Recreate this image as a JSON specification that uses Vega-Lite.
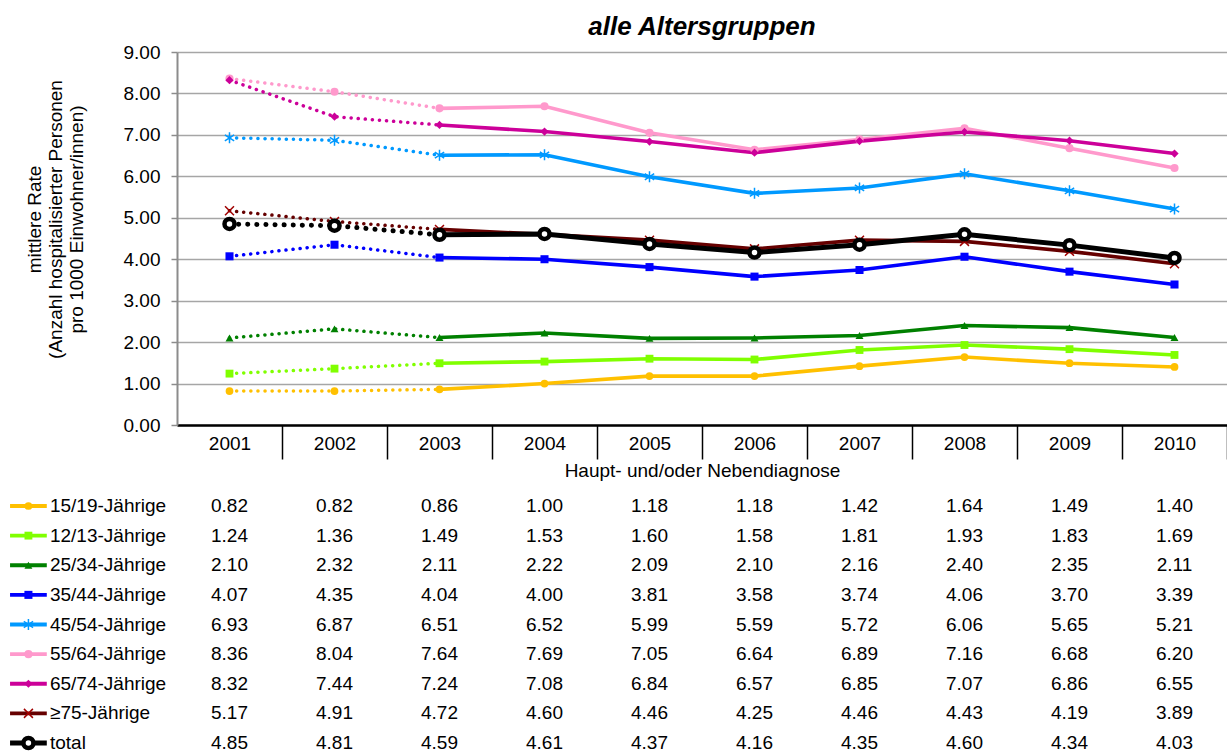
{
  "$schema": "https://vega.github.io/schema/vega-lite/v6.json",
  "padding": {"left": 7, "top": 14, "right": 0, "bottom": 0},
  "autosize": {"type": "pad"},
  "bounds": "flush",
  "spacing": 81,
  "datasets": {
    "d": [
      {"s": "15/19-Jährige", "year": 2001, "v": 0.82}, {"s": "15/19-Jährige", "year": 2002, "v": 0.82}, {"s": "15/19-Jährige", "year": 2003, "v": 0.86}, {"s": "15/19-Jährige", "year": 2004, "v": 1.00}, {"s": "15/19-Jährige", "year": 2005, "v": 1.18}, {"s": "15/19-Jährige", "year": 2006, "v": 1.18}, {"s": "15/19-Jährige", "year": 2007, "v": 1.42}, {"s": "15/19-Jährige", "year": 2008, "v": 1.64}, {"s": "15/19-Jährige", "year": 2009, "v": 1.49}, {"s": "15/19-Jährige", "year": 2010, "v": 1.40},
      {"s": "12/13-Jährige", "year": 2001, "v": 1.24}, {"s": "12/13-Jährige", "year": 2002, "v": 1.36}, {"s": "12/13-Jährige", "year": 2003, "v": 1.49}, {"s": "12/13-Jährige", "year": 2004, "v": 1.53}, {"s": "12/13-Jährige", "year": 2005, "v": 1.60}, {"s": "12/13-Jährige", "year": 2006, "v": 1.58}, {"s": "12/13-Jährige", "year": 2007, "v": 1.81}, {"s": "12/13-Jährige", "year": 2008, "v": 1.93}, {"s": "12/13-Jährige", "year": 2009, "v": 1.83}, {"s": "12/13-Jährige", "year": 2010, "v": 1.69},
      {"s": "25/34-Jährige", "year": 2001, "v": 2.10}, {"s": "25/34-Jährige", "year": 2002, "v": 2.32}, {"s": "25/34-Jährige", "year": 2003, "v": 2.11}, {"s": "25/34-Jährige", "year": 2004, "v": 2.22}, {"s": "25/34-Jährige", "year": 2005, "v": 2.09}, {"s": "25/34-Jährige", "year": 2006, "v": 2.10}, {"s": "25/34-Jährige", "year": 2007, "v": 2.16}, {"s": "25/34-Jährige", "year": 2008, "v": 2.40}, {"s": "25/34-Jährige", "year": 2009, "v": 2.35}, {"s": "25/34-Jährige", "year": 2010, "v": 2.11},
      {"s": "35/44-Jährige", "year": 2001, "v": 4.07}, {"s": "35/44-Jährige", "year": 2002, "v": 4.35}, {"s": "35/44-Jährige", "year": 2003, "v": 4.04}, {"s": "35/44-Jährige", "year": 2004, "v": 4.00}, {"s": "35/44-Jährige", "year": 2005, "v": 3.81}, {"s": "35/44-Jährige", "year": 2006, "v": 3.58}, {"s": "35/44-Jährige", "year": 2007, "v": 3.74}, {"s": "35/44-Jährige", "year": 2008, "v": 4.06}, {"s": "35/44-Jährige", "year": 2009, "v": 3.70}, {"s": "35/44-Jährige", "year": 2010, "v": 3.39},
      {"s": "45/54-Jährige", "year": 2001, "v": 6.93}, {"s": "45/54-Jährige", "year": 2002, "v": 6.87}, {"s": "45/54-Jährige", "year": 2003, "v": 6.51}, {"s": "45/54-Jährige", "year": 2004, "v": 6.52}, {"s": "45/54-Jährige", "year": 2005, "v": 5.99}, {"s": "45/54-Jährige", "year": 2006, "v": 5.59}, {"s": "45/54-Jährige", "year": 2007, "v": 5.72}, {"s": "45/54-Jährige", "year": 2008, "v": 6.06}, {"s": "45/54-Jährige", "year": 2009, "v": 5.65}, {"s": "45/54-Jährige", "year": 2010, "v": 5.21},
      {"s": "55/64-Jährige", "year": 2001, "v": 8.36}, {"s": "55/64-Jährige", "year": 2002, "v": 8.04}, {"s": "55/64-Jährige", "year": 2003, "v": 7.64}, {"s": "55/64-Jährige", "year": 2004, "v": 7.69}, {"s": "55/64-Jährige", "year": 2005, "v": 7.05}, {"s": "55/64-Jährige", "year": 2006, "v": 6.64}, {"s": "55/64-Jährige", "year": 2007, "v": 6.89}, {"s": "55/64-Jährige", "year": 2008, "v": 7.16}, {"s": "55/64-Jährige", "year": 2009, "v": 6.68}, {"s": "55/64-Jährige", "year": 2010, "v": 6.20},
      {"s": "65/74-Jährige", "year": 2001, "v": 8.32}, {"s": "65/74-Jährige", "year": 2002, "v": 7.44}, {"s": "65/74-Jährige", "year": 2003, "v": 7.24}, {"s": "65/74-Jährige", "year": 2004, "v": 7.08}, {"s": "65/74-Jährige", "year": 2005, "v": 6.84}, {"s": "65/74-Jährige", "year": 2006, "v": 6.57}, {"s": "65/74-Jährige", "year": 2007, "v": 6.85}, {"s": "65/74-Jährige", "year": 2008, "v": 7.07}, {"s": "65/74-Jährige", "year": 2009, "v": 6.86}, {"s": "65/74-Jährige", "year": 2010, "v": 6.55},
      {"s": "≥75-Jährige", "year": 2001, "v": 5.17}, {"s": "≥75-Jährige", "year": 2002, "v": 4.91}, {"s": "≥75-Jährige", "year": 2003, "v": 4.72}, {"s": "≥75-Jährige", "year": 2004, "v": 4.60}, {"s": "≥75-Jährige", "year": 2005, "v": 4.46}, {"s": "≥75-Jährige", "year": 2006, "v": 4.25}, {"s": "≥75-Jährige", "year": 2007, "v": 4.46}, {"s": "≥75-Jährige", "year": 2008, "v": 4.43}, {"s": "≥75-Jährige", "year": 2009, "v": 4.19}, {"s": "≥75-Jährige", "year": 2010, "v": 3.89},
      {"s": "total", "year": 2001, "v": 4.85}, {"s": "total", "year": 2002, "v": 4.81}, {"s": "total", "year": 2003, "v": 4.59}, {"s": "total", "year": 2004, "v": 4.61}, {"s": "total", "year": 2005, "v": 4.37}, {"s": "total", "year": 2006, "v": 4.16}, {"s": "total", "year": 2007, "v": 4.35}, {"s": "total", "year": 2008, "v": 4.60}, {"s": "total", "year": 2009, "v": 4.34}, {"s": "total", "year": 2010, "v": 4.03}
    ]
  },
  "vconcat": [
    {
      "width": 1050,
      "height": 373,
      "title": {"text": "alle Altersgruppen", "fontSize": 26, "fontWeight": "bold", "fontStyle": "italic", "font": "Liberation Sans", "anchor": "middle", "frame": "group", "offset": 3, "color": "#000000"},
      "data": {"name": "d"},
      "encoding": {
        "x": {
          "field": "year", "type": "ordinal", "bandPosition": 0.5,
          "scale": {"type": "band", "paddingInner": 0, "paddingOuter": 0},
          "axis": {
            "title": "Haupt- und/oder Nebendiagnose", "titleFontSize": 19, "titlePadding": 2,
            "labelFontSize": 19, "labelAngle": 0, "labelPadding": -25,
            "tickBand": "extent", "tickSize": 34, "tickColor": "#000000", "tickWidth": 1.5,
            "tickOpacity": {"condition": {"test": "datum.index < 0 || datum.extra != null", "value": 0}, "value": 1},
            "domainColor": "#000000", "domainWidth": 2.5, "grid": false
          }
        },
        "y": {
          "field": "v", "type": "quantitative",
          "scale": {"domain": [0, 9], "nice": false},
          "axis": {
            "title": ["mittlere Rate", "(Anzahl hospitalisierter Personen", "pro 1000 Einwohner/innen)"],
            "titleFontSize": 19, "titleLineHeight": 21, "titlePadding": 37, "titleY": 167,
            "values": [0, 1, 2, 3, 4, 5, 6, 7, 8, 9], "format": ".2f",
            "labelFontSize": 19, "labelPadding": 11,
            "tickSize": 6, "tickColor": "#8C8C8C", "tickWidth": 1.5,
            "domainColor": "#8C8C8C", "domainWidth": 2,
            "grid": true, "gridColor": "#A6A6A6", "gridWidth": 1.5
          }
        }
      },
      "layer": [
        {
          "transform": [{"filter": "datum.year <= 2003 && datum.s != 'total'"}],
          "mark": {"type": "line", "strokeDash": [0.1, 7], "strokeCap": "round", "strokeWidth": 3.5},
          "encoding": {"color": {"field": "s", "type": "nominal", "legend": null,
            "scale": {"domain": ["15/19-Jährige", "12/13-Jährige", "25/34-Jährige", "35/44-Jährige", "45/54-Jährige", "55/64-Jährige", "65/74-Jährige", "≥75-Jährige", "total"],
                      "range": ["#FFC000", "#80FF00", "#008000", "#0000FF", "#0099FF", "#FF99CC", "#CC0099", "#660000", "#000000"]}}}
        },
        {
          "transform": [{"filter": "datum.year >= 2003 && datum.s != 'total'"}],
          "mark": {"type": "line", "strokeWidth": 3.6},
          "encoding": {"color": {"field": "s", "type": "nominal", "legend": null,
            "scale": {"domain": ["15/19-Jährige", "12/13-Jährige", "25/34-Jährige", "35/44-Jährige", "45/54-Jährige", "55/64-Jährige", "65/74-Jährige", "≥75-Jährige", "total"],
                      "range": ["#FFC000", "#80FF00", "#008000", "#0000FF", "#0099FF", "#FF99CC", "#CC0099", "#660000", "#000000"]}}}
        },
        {
          "transform": [{"filter": "datum.s != 'total' && datum.s != '45/54-Jährige' && datum.s != '≥75-Jährige'"}],
          "mark": {"type": "point", "filled": true, "opacity": 1},
          "encoding": {
            "color": {"field": "s", "type": "nominal", "legend": null,
              "scale": {"domain": ["15/19-Jährige", "12/13-Jährige", "25/34-Jährige", "35/44-Jährige", "45/54-Jährige", "55/64-Jährige", "65/74-Jährige", "≥75-Jährige", "total"],
                        "range": ["#FFC000", "#80FF00", "#008000", "#0000FF", "#0099FF", "#FF99CC", "#CC0099", "#660000", "#000000"]}},
            "shape": {"field": "s", "type": "nominal", "legend": null,
              "scale": {"domain": ["15/19-Jährige", "12/13-Jährige", "25/34-Jährige", "35/44-Jährige", "55/64-Jährige", "65/74-Jährige"],
                        "range": ["circle", "square", "triangle-up", "square", "circle", "diamond"]}},
            "size": {"field": "s", "type": "nominal", "legend": null,
              "scale": {"domain": ["15/19-Jährige", "12/13-Jährige", "25/34-Jährige", "35/44-Jährige", "55/64-Jährige", "65/74-Jährige"],
                        "range": [60, 68, 150, 68, 100, 160]}}
          }
        },
        {
          "transform": [{"filter": "datum.s == '45/54-Jährige'"}],
          "mark": {"type": "point", "filled": false, "opacity": 1, "stroke": "#0099FF", "strokeWidth": 1.5, "size": 120,
                   "shape": "M0,-1L0,1M-0.85,-0.55L0.85,0.55M-0.85,0.55L0.85,-0.55"},
          "encoding": {}
        },
        {
          "transform": [{"filter": "datum.s == '≥75-Jährige'"}],
          "mark": {"type": "point", "filled": false, "opacity": 1, "stroke": "#A00000", "strokeWidth": 1.5, "size": 80,
                   "shape": "M-1,-1L1,1M-1,1L1,-1"},
          "encoding": {}
        },
        {
          "transform": [{"filter": "datum.year <= 2003 && datum.s == 'total'"}],
          "mark": {"type": "line", "strokeDash": [0.1, 9], "strokeCap": "round", "strokeWidth": 5, "color": "#000000"},
          "encoding": {}
        },
        {
          "transform": [{"filter": "datum.year >= 2003 && datum.s == 'total'"}],
          "mark": {"type": "line", "strokeWidth": 5, "color": "#000000"},
          "encoding": {}
        },
        {
          "transform": [{"filter": "datum.s == 'total'"}],
          "mark": {"type": "point", "shape": "circle", "filled": true, "fill": "#FFFFFF", "stroke": "#000000", "strokeWidth": 4.5, "size": 100, "opacity": 1},
          "encoding": {}
        }
      ]
    },
    {
      "width": 1050,
      "height": 237,
      "data": {"name": "d"},
      "encoding": {
        "y": {"field": "s", "type": "ordinal", "axis": null,
              "scale": {"type": "point", "padding": 0, "domain": ["15/19-Jährige", "12/13-Jährige", "25/34-Jährige", "35/44-Jährige", "45/54-Jährige", "55/64-Jährige", "65/74-Jährige", "≥75-Jährige", "total"]}}
      },
      "layer": [
        {
          "mark": {"type": "text", "fontSize": 19, "align": "center", "baseline": "middle", "color": "#000000", "font": "Liberation Sans"},
          "encoding": {
            "x": {"field": "year", "type": "quantitative", "axis": null, "scale": {"domain": [2000.5, 2010.5], "zero": false, "nice": false}},
            "text": {"field": "v", "type": "quantitative", "format": ".2f"}
          }
        },
        {
          "transform": [{"filter": "datum.year == 2001 && datum.s != 'total'"}],
          "mark": {"type": "rule", "strokeWidth": 3.8},
          "encoding": {
            "x": {"datum": 1998.91, "type": "quantitative", "axis": null},
            "x2": {"datum": 1999.26},
            "color": {"field": "s", "type": "nominal", "legend": null,
              "scale": {"domain": ["15/19-Jährige", "12/13-Jährige", "25/34-Jährige", "35/44-Jährige", "45/54-Jährige", "55/64-Jährige", "65/74-Jährige", "≥75-Jährige", "total"],
                        "range": ["#FFC000", "#80FF00", "#008000", "#0000FF", "#0099FF", "#FF99CC", "#CC0099", "#660000", "#000000"]}}
          }
        },
        {
          "transform": [{"filter": "datum.year == 2001 && datum.s == 'total'"}],
          "mark": {"type": "rule", "strokeWidth": 5, "color": "#000000"},
          "encoding": {
            "x": {"datum": 1998.91, "type": "quantitative", "axis": null},
            "x2": {"datum": 1999.26}
          }
        },
        {
          "transform": [{"filter": "datum.year == 2001 && datum.s != 'total' && datum.s != '45/54-Jährige' && datum.s != '≥75-Jährige'"}],
          "mark": {"type": "point", "filled": true, "opacity": 1},
          "encoding": {
            "x": {"datum": 1999.085, "type": "quantitative", "axis": null},
            "color": {"field": "s", "type": "nominal", "legend": null,
              "scale": {"domain": ["15/19-Jährige", "12/13-Jährige", "25/34-Jährige", "35/44-Jährige", "45/54-Jährige", "55/64-Jährige", "65/74-Jährige", "≥75-Jährige", "total"],
                        "range": ["#FFC000", "#80FF00", "#008000", "#0000FF", "#0099FF", "#FF99CC", "#CC0099", "#660000", "#000000"]}},
            "shape": {"field": "s", "type": "nominal", "legend": null,
              "scale": {"domain": ["15/19-Jährige", "12/13-Jährige", "25/34-Jährige", "35/44-Jährige", "55/64-Jährige", "65/74-Jährige"],
                        "range": ["circle", "square", "triangle-up", "square", "circle", "diamond"]}},
            "size": {"field": "s", "type": "nominal", "legend": null,
              "scale": {"domain": ["15/19-Jährige", "12/13-Jährige", "25/34-Jährige", "35/44-Jährige", "55/64-Jährige", "65/74-Jährige"],
                        "range": [60, 68, 150, 68, 100, 160]}}
          }
        },
        {
          "transform": [{"filter": "datum.year == 2001 && datum.s == '45/54-Jährige'"}],
          "mark": {"type": "point", "filled": false, "opacity": 1, "stroke": "#0099FF", "strokeWidth": 1.5, "size": 120,
                   "shape": "M0,-1L0,1M-0.85,-0.55L0.85,0.55M-0.85,0.55L0.85,-0.55"},
          "encoding": {"x": {"datum": 1999.085, "type": "quantitative", "axis": null}}
        },
        {
          "transform": [{"filter": "datum.year == 2001 && datum.s == '≥75-Jährige'"}],
          "mark": {"type": "point", "filled": false, "opacity": 1, "stroke": "#A00000", "strokeWidth": 1.5, "size": 80,
                   "shape": "M-1,-1L1,1M-1,1L1,-1"},
          "encoding": {"x": {"datum": 1999.085, "type": "quantitative", "axis": null}}
        },
        {
          "transform": [{"filter": "datum.year == 2001 && datum.s == 'total'"}],
          "mark": {"type": "point", "shape": "circle", "filled": true, "fill": "#FFFFFF", "stroke": "#000000", "strokeWidth": 4.5, "size": 100, "opacity": 1},
          "encoding": {"x": {"datum": 1999.085, "type": "quantitative", "axis": null}}
        },
        {
          "transform": [{"filter": "datum.year == 2001"}],
          "mark": {"type": "text", "fontSize": 19, "align": "left", "baseline": "middle", "color": "#000000", "font": "Liberation Sans"},
          "encoding": {
            "x": {"datum": 1999.29, "type": "quantitative", "axis": null},
            "text": {"field": "s", "type": "nominal"}
          }
        }
      ]
    }
  ],
  "config": {
    "font": "Liberation Sans",
    "view": {"stroke": null},
    "axis": {"labelFont": "Liberation Sans", "titleFont": "Liberation Sans", "labelColor": "#000000", "titleColor": "#000000", "titleFontWeight": "normal"},
    "text": {"font": "Liberation Sans"}
  }
}
